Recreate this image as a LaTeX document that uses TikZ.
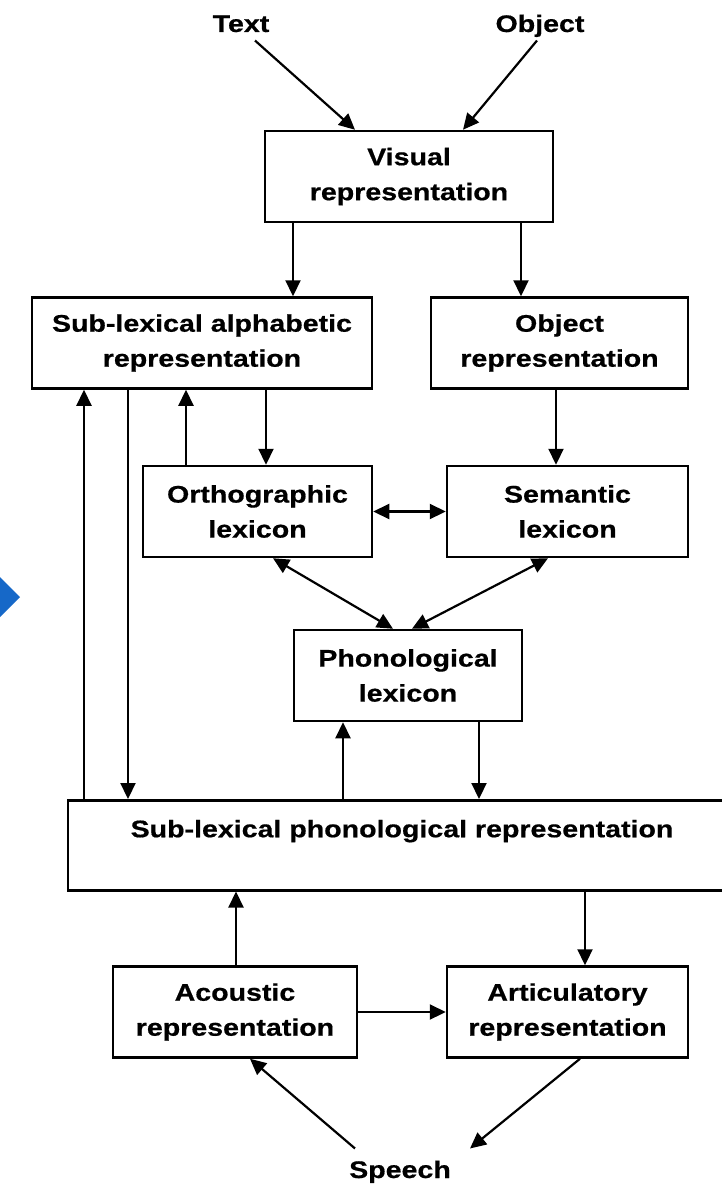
\documentclass[tikz,border=0pt]{standalone}
\usepackage{fontspec}
\setmainfont{Liberation Sans}[FakeStretch=1.19,BoldFeatures={FakeBold=0.6}]
\usetikzlibrary{arrows.meta,positioning,calc}

\definecolor{pointerblue}{RGB}{22,104,200}

\begin{document}
\begin{tikzpicture}[x=1pt,y=-1pt,
    >={Triangle[length=16pt,width=15pt]},
    box/.style={draw,rectangle,line width=2.5pt,align=center,inner sep=0pt,
      minimum height=91pt,font=\fontsize{24}{35}\selectfont\bfseries},
    lbl/.style={font=\fontsize{24}{35}\selectfont\bfseries,text height=17pt,text depth=5pt},
    link/.style={line width=2.2pt}]
      \path[use as bounding box] (0,0) rectangle (722,1188);
      \clip (0,0) rectangle (722,1188);

      % pointer at the left border
      \fill[pointerblue] (-30,597) -- (-5,572) -- (20,597) -- (-5,622) -- cycle;

      \node[lbl] (txt) at (241,26) {Text};
      \node[lbl] (objin) at (540,26) {Object};

      \node[box,minimum width=288pt] (vis) at (409,176.5) {Visual\\representation};

      \node[box,minimum width=340pt] (alpha) at (202,343) {Sub-lexical alphabetic\\representation};
      \node[box,minimum width=257pt] (objr) at (559.5,343) {Object\\representation};

      \node[box,minimum width=229pt] (orth) at (257.5,511.5) {Orthographic\\lexicon};
      \node[box,minimum width=241pt] (sem) at (567.5,511.5) {Semantic\\lexicon};

      \node[box,minimum width=228pt] (phon) at (408,675.5) {Phonological\\lexicon};

      \node[box,minimum width=668pt,minimum height=90pt,inner ysep=10pt,
        text height=27pt,text depth=43pt,anchor=north] (sub) at (402,799)
        {Sub-lexical phonological representation};

      \node[box,minimum width=244pt] (ac) at (235,1012) {Acoustic\\representation};
      \node[box,minimum width=241pt] (art) at (567.5,1012) {Articulatory\\representation};

      \node[lbl] (sp) at (400,1172) {Speech};

      \draw[link,->] ([xshift=14pt]txt.south) -- (355,0 |- vis.north);
      \draw[link,->] ([xshift=-3pt]objin.south) -- (463,0 |- vis.north);

      \draw[link,->] (293,0 |- vis.south) -- (293,0 |- alpha.north);
      \draw[link,->] (521,0 |- vis.south) -- (521,0 |- objr.north);

      \draw[link,->] (556,0 |- objr.south) -- (556,0 |- sem.north);
      \draw[link,->] (266,0 |- alpha.south) -- (266,0 |- orth.north);
      \draw[link,->] (186,0 |- orth.north) -- (186,0 |- alpha.south);
      \draw[link,->] (128,0 |- alpha.south) -- (128,0 |- sub.north);
      \draw[link,->] (84,0 |- sub.north) -- (84,0 |- alpha.south);

      \draw[link,<->] (orth.east) -- (sem.west);
      \draw[link,<->] (273,0 |- orth.south) -- (393,0 |- phon.north);
      \draw[link,<->] (548,0 |- sem.south) -- (412,0 |- phon.north);

      \draw[link,->] (343,0 |- sub.north) -- (343,0 |- phon.south);
      \draw[link,->] (479,0 |- phon.south) -- (479,0 |- sub.north);

      \draw[link,->] (236,0 |- ac.north) -- (236,0 |- sub.south);
      \draw[link,->] (585,0 |- sub.south) -- (585,0 |- art.north);
      \draw[link,->] (ac.east) -- (art.west);

      \draw[link,->] ([xshift=-45pt,yshift=9pt]sp.north) -- (250,0 |- ac.south);
      \draw[link,->] (580,0 |- art.south) -- ([xshift=70pt,yshift=9pt]sp.north);

\end{tikzpicture}
\end{document}
